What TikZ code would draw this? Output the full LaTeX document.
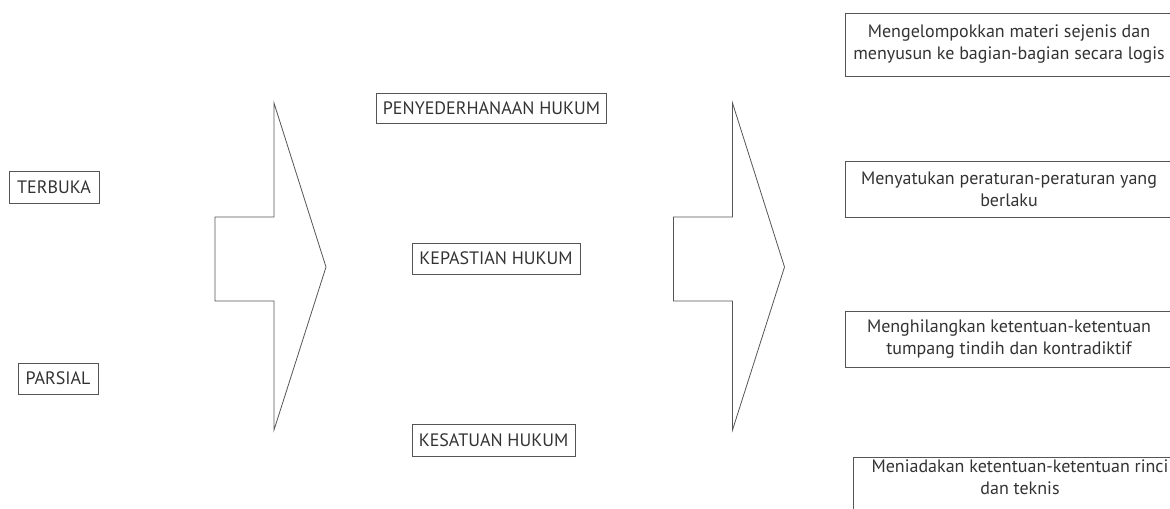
\documentclass[tikz,border=0pt]{standalone}
\usepackage{fontspec}
\setmainfont{PT Sans}
\definecolor{inkgray}{HTML}{333333}
\definecolor{linegray}{HTML}{555555}
\tikzset{
    box/.style={draw=linegray, line width=0.6pt, text=inkgray, inner sep=0pt,
        font=\fontsize{13.5}{16.5}\selectfont},
    rbox/.style={box, align=center},
    blockarrow/.style={draw=linegray, line width=0.6pt, line join=miter}
}
\begin{document}
\begin{tikzpicture}[x=0.75pt, y=-0.75pt]

    % Page frame in pixel units of the reference
    \useasboundingbox (0,0) rectangle (1170,508);
    \clip (0,0) rectangle (1170,508);

    % Left column
    \node[box, minimum width=67.5pt, minimum height=24pt] (terbuka) at (54,187) {TERBUKA};
    \node[box, minimum width=60pt, minimum height=23.25pt] (parsial) at (58,378.5) {PARSIAL};

    % Two block arrows, the second shifted to the right
    \foreach \dx in {0,458.5} {
        \begin{scope}[xshift=\dx*0.75pt]
            \coordinate (top) at (274,103);
            \coordinate (tip) at (326,267);
            \coordinate (bot) at (274,430);
            \draw[blockarrow] (top) -- (tip) -- (bot) -- (274,301) -- (215,301)
                -- (215,217) -- (274,217) -- cycle;
        \end{scope}
    }

    % Middle column
    \node[box, minimum width=172.5pt, minimum height=22.5pt] (sederhana) at (491.5,108) {PENYEDERHANAAN HUKUM};
    \node[box, minimum width=126pt, minimum height=23.25pt] (kepastian) at (496,258.5) {KEPASTIAN HUKUM};
    \node[box, minimum width=122.25pt, minimum height=24pt] (kesatuan) at (493.5,440) {KESATUAN HUKUM};

    % Right column (cut off by the page edge)
    \node[rbox, minimum width=246pt, minimum height=47.25pt] (kelompok) at (1009,44.5)
        {Mengelompokkan materi sejenis dan\\menyusun ke bagian-bagian secara logis};
    \node[rbox, minimum width=246pt, minimum height=42pt] (satukan) at (1009,189)
        {Menyatukan peraturan-peraturan yang\\berlaku};
    \node[rbox, minimum width=246pt, minimum height=42pt] (hilangkan) at (1009,339)
        {Menghilangkan ketentuan-ketentuan\\tumpang tindih dan kontradiktif};
    \node[rbox, minimum width=250.5pt, text depth=30pt, inner ysep=2pt, anchor=north] (tiadakan) at (1020,457)
        {Meniadakan ketentuan-ketentuan rinci\\dan teknis};

\end{tikzpicture}
\end{document}
